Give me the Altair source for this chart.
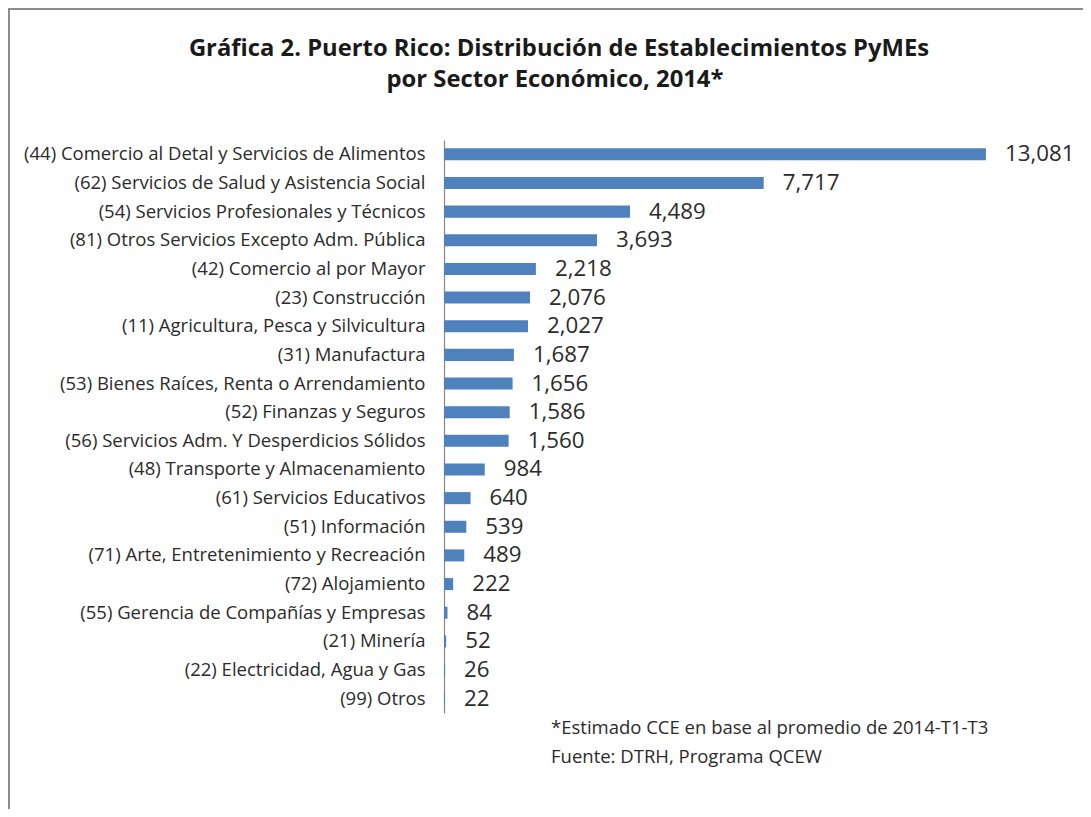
import altair as alt
import pandas as pd

categories = [
    "(44) Comercio al Detal y Servicios de Alimentos",
    "(62) Servicios de Salud y Asistencia Social",
    "(54) Servicios Profesionales y Técnicos",
    "(81) Otros Servicios Excepto Adm. Pública",
    "(42) Comercio al por Mayor",
    "(23) Construcción",
    "(11) Agricultura, Pesca y Silvicultura",
    "(31) Manufactura",
    "(53) Bienes Raíces, Renta o Arrendamiento",
    "(52) Finanzas y Seguros",
    "(56) Servicios Adm. Y Desperdicios Sólidos",
    "(48) Transporte y Almacenamiento",
    "(61) Servicios Educativos",
    "(51) Información",
    "(71) Arte, Entretenimiento y Recreación",
    "(72) Alojamiento",
    "(55) Gerencia de Compañías y Empresas",
    "(21) Minería",
    "(22) Electricidad, Agua y Gas",
    "(99) Otros",
]
values = [13081, 7717, 4489, 3693, 2218, 2076, 2027, 1687, 1656, 1586,
          1560, 984, 640, 539, 489, 222, 84, 52, 26, 22]

title_lines = ["Gráfica 2. Puerto Rico: Distribución de Establecimientos PyMEs",
               "por Sector Económico, 2014*"]
notes = ["*Estimado CCE en base al promedio de 2014-T1-T3",
         "Fuente: DTRH, Programa QCEW"]

FONT = "Open Sans"
PAD_L, PAD_T, PAD_R, PAD_B = 436, 132, 59, 96
W, H = 580, 573
TOTAL_W = PAD_L + W + PAD_R
TOTAL_H = PAD_T + H + PAD_B

df = pd.DataFrame({"cat": categories, "value": values})

y_enc = alt.Y("cat:N", sort=categories,
              scale=alt.Scale(paddingInner=0.58, paddingOuter=0.29),
              axis=alt.Axis(title=None, ticks=False, tickSize=0, labelPadding=19,
                            labelFont=FONT, labelFontSize=18.5, labelColor="#2b2b2b",
                            labelLimit=500, domainColor="#868686", domainWidth=1.2,
                            grid=False))
x_enc = alt.X("value:Q", scale=alt.Scale(domain=[0, 14000], nice=False), axis=None)

base = alt.Chart(df)
bars = base.mark_bar(color="#4F81BD").encode(y=y_enc, x=x_enc)
labels = base.mark_text(align="left", baseline="middle", dx=19, font=FONT,
                        fontSize=22.3, color="#2b2b2b").encode(
    y=y_enc, x=x_enc, text=alt.Text("value:Q", format=","))

t1 = alt.Chart(pd.DataFrame({"t": [title_lines[0]]})).mark_text(
    align="center", baseline="alphabetic", font=FONT, fontWeight="bold",
    fontSize=23.8, color="#1a1a1a").encode(
    x=alt.value(559 - 8 - PAD_L), y=alt.value(56 - 8 - PAD_T), text="t:N")
t2 = alt.Chart(pd.DataFrame({"t": [title_lines[1]]})).mark_text(
    align="center", baseline="alphabetic", font=FONT, fontWeight="bold",
    fontSize=23.8, color="#1a1a1a").encode(
    x=alt.value(555 - 8 - PAD_L), y=alt.value(87 - 8 - PAD_T), text="t:N")

n1 = alt.Chart(pd.DataFrame({"t": [notes[0]]})).mark_text(
    align="left", baseline="middle", font=FONT, fontSize=18.5, color="#2b2b2b").encode(
    x=alt.value(551 - 8 - PAD_L), y=alt.value(728 - 8 - PAD_T), text="t:N")
n2 = alt.Chart(pd.DataFrame({"t": [notes[1]]})).mark_text(
    align="left", baseline="middle", font=FONT, fontSize=18.5, color="#2b2b2b").encode(
    x=alt.value(551 - 8 - PAD_L), y=alt.value(757 - 8 - PAD_T), text="t:N")

border_v = alt.Chart(pd.DataFrame({"a": [0]})).mark_rule(color="#8c8c8c", strokeWidth=2).encode(
    x=alt.value(-PAD_L + 1), y=alt.value(-PAD_T), y2=alt.value(TOTAL_H - PAD_T))
border_h = alt.Chart(pd.DataFrame({"a": [0]})).mark_rule(color="#8c8c8c", strokeWidth=2).encode(
    y=alt.value(-PAD_T + 1), x=alt.value(-PAD_L), x2=alt.value(TOTAL_W - PAD_L))

chart = alt.layer(bars, labels, t1, t2, n1, n2, border_v, border_h).properties(
    width=W, height=H,
    autosize=alt.AutoSizeParams(type="none"),
    padding={"left": PAD_L, "top": PAD_T, "right": PAD_R, "bottom": PAD_B},
    background="white",
).configure_view(stroke=None)

chart.save("out.html", embed_options={"renderer": "svg", "actions": False})
